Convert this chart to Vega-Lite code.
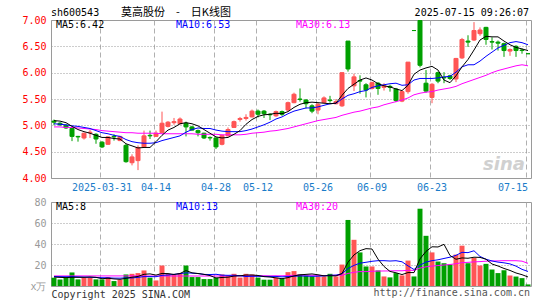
{
  "$schema": "https://vega.github.io/schema/vega-lite/v6.json",
  "background": "white",
  "padding": {"left": 21, "top": 6, "right": 5, "bottom": 2},
  "bounds": "flush",
  "spacing": 24,
  "config": {
    "font": "DejaVu Sans Mono",
    "view": {"stroke": "#9a9a9a", "strokeWidth": 1},
    "axis": {"labelFont": "DejaVu Sans Mono", "labelFontSize": 10, "titleFont": "DejaVu Sans Mono", "titleFontSize": 10, "titleFontWeight": "normal", "ticks": false, "domain": false, "grid": true, "gridColor": "#a8a8a8", "gridWidth": 1, "labelOverlap": false},
    "axisY": {"labelOverlap": false},
    "axisLeft": {"labelOverlap": false},
    "axisQuantitative": {"labelOverlap": false},
    "title": {"font": "DejaVu Sans Mono", "fontSize": 10, "fontWeight": "normal", "color": "#000000"},
    "text": {"font": "DejaVu Sans Mono", "fontSize": 10}
  },
  "data": {"values": [
    {"d":"2025-03-19","o":5.08,"h":5.11,"l":5.00,"c":5.06,"v":7.9,"m5":5.09,"m10":5.03,"m30":4.97,"vm5":8.5,"vm10":9.0,"vm30":9.6},
    {"d":"2025-03-20","o":5.04,"h":5.06,"l":4.99,"c":5.01,"v":6.3,"m5":5.08,"m10":5.02,"m30":4.97,"vm5":8.2,"vm10":8.9,"vm30":9.6},
    {"d":"2025-03-21","o":5.00,"h":5.02,"l":4.93,"c":4.95,"v":7.9,"m5":5.05,"m10":5.01,"m30":4.96,"vm5":8.0,"vm10":8.8,"vm30":9.6},
    {"d":"2025-03-24","o":4.94,"h":4.95,"l":4.70,"c":4.79,"v":12.9,"m5":4.98,"m10":4.99,"m30":4.96,"vm5":8.3,"vm10":8.9,"vm30":9.6},
    {"d":"2025-03-25","o":4.79,"h":4.80,"l":4.69,"c":4.78,"v":6.3,"m5":4.92,"m10":4.98,"m30":4.95,"vm5":8.26,"vm10":8.7,"vm30":9.6},
    {"d":"2025-03-26","o":4.76,"h":4.86,"l":4.73,"c":4.85,"v":7.9,"m5":4.88,"m10":4.96,"m30":4.94,"vm5":8.26,"vm10":8.5,"vm30":9.6},
    {"d":"2025-03-27","o":4.86,"h":4.91,"l":4.76,"c":4.87,"v":7.9,"m5":4.85,"m10":4.94,"m30":4.93,"vm5":8.58,"vm10":8.3,"vm30":9.6},
    {"d":"2025-03-28","o":4.83,"h":4.85,"l":4.65,"c":4.74,"v":6.3,"m5":4.81,"m10":4.90,"m30":4.92,"vm5":8.26,"vm10":8.1,"vm30":9.6},
    {"d":"2025-03-31","o":4.68,"h":4.70,"l":4.57,"c":4.59,"v":6.3,"m5":4.77,"m10":4.86,"m30":4.90,"vm5":6.94,"vm10":7.9,"vm30":9.6},
    {"d":"2025-04-01","o":4.64,"h":4.79,"l":4.63,"c":4.78,"v":8.5,"m5":4.77,"m10":4.84,"m30":4.89,"vm5":7.38,"vm10":7.82,"vm30":9.6},
    {"d":"2025-04-02","o":4.79,"h":4.83,"l":4.71,"c":4.78,"v":4.7,"m5":4.75,"m10":4.81,"m30":4.88,"vm5":6.74,"vm10":7.5,"vm30":9.6},
    {"d":"2025-04-03","o":4.71,"h":4.80,"l":4.70,"c":4.79,"v":6.0,"m5":4.74,"m10":4.79,"m30":4.87,"vm5":6.36,"vm10":7.47,"vm30":9.6},
    {"d":"2025-04-07","o":4.62,"h":4.65,"l":4.29,"c":4.31,"v":11.0,"m5":4.65,"m10":4.73,"m30":4.86,"vm5":7.3,"vm10":7.78,"vm30":9.6},
    {"d":"2025-04-08","o":4.29,"h":4.45,"l":4.24,"c":4.40,"v":11.6,"m5":4.61,"m10":4.69,"m30":4.86,"vm5":8.36,"vm10":7.65,"vm30":9.6},
    {"d":"2025-04-09","o":4.33,"h":4.62,"l":4.15,"c":4.58,"v":12.3,"m5":4.57,"m10":4.67,"m30":4.85,"vm5":9.12,"vm10":8.25,"vm30":9.6},
    {"d":"2025-04-10","o":4.59,"h":4.90,"l":4.58,"c":4.80,"v":14.8,"m5":4.58,"m10":4.66,"m30":4.85,"vm5":11.14,"vm10":8.94,"vm30":9.5},
    {"d":"2025-04-11","o":4.81,"h":4.90,"l":4.74,"c":4.80,"v":7.9,"m5":4.58,"m10":4.66,"m30":4.85,"vm5":11.52,"vm10":8.94,"vm30":9.5},
    {"d":"2025-04-14","o":4.79,"h":4.90,"l":4.78,"c":4.85,"v":5.3,"m5":4.69,"m10":4.67,"m30":4.85,"vm5":10.38,"vm10":8.84,"vm30":9.5},
    {"d":"2025-04-15","o":4.86,"h":5.26,"l":4.85,"c":5.04,"v":19.5,"m5":4.81,"m10":4.71,"m30":4.84,"vm5":11.96,"vm10":10.16,"vm30":9.5},
    {"d":"2025-04-16","o":4.98,"h":5.08,"l":4.96,"c":5.06,"v":11.6,"m5":4.91,"m10":4.74,"m30":4.84,"vm5":11.82,"vm10":10.47,"vm30":9.5},
    {"d":"2025-04-17","o":5.05,"h":5.14,"l":5.01,"c":5.07,"v":10.7,"m5":4.96,"m10":4.77,"m30":4.84,"vm5":11.0,"vm10":11.07,"vm30":9.5},
    {"d":"2025-04-18","o":5.03,"h":5.15,"l":5.02,"c":5.12,"v":12.3,"m5":5.03,"m10":4.80,"m30":4.84,"vm5":11.88,"vm10":11.7,"vm30":9.5},
    {"d":"2025-04-21","o":5.04,"h":5.07,"l":4.79,"c":4.97,"v":19.5,"m5":5.05,"m10":4.87,"m30":4.84,"vm5":14.72,"vm10":12.55,"vm30":9.5},
    {"d":"2025-04-22","o":4.97,"h":4.99,"l":4.90,"c":4.91,"v":8.5,"m5":5.03,"m10":4.92,"m30":4.84,"vm5":12.52,"vm10":12.24,"vm30":9.5},
    {"d":"2025-04-23","o":4.90,"h":4.92,"l":4.79,"c":4.86,"v":8.5,"m5":4.99,"m10":4.95,"m30":4.83,"vm5":11.9,"vm10":11.86,"vm30":9.5},
    {"d":"2025-04-24","o":4.85,"h":4.86,"l":4.74,"c":4.76,"v":6.6,"m5":4.92,"m10":4.94,"m30":4.83,"vm5":11.08,"vm10":11.04,"vm30":9.5},
    {"d":"2025-04-25","o":4.77,"h":4.79,"l":4.71,"c":4.76,"v":6.6,"m5":4.85,"m10":4.94,"m30":4.83,"vm5":9.94,"vm10":10.91,"vm30":9.5},
    {"d":"2025-04-28","o":4.76,"h":4.77,"l":4.55,"c":4.59,"v":7.9,"m5":4.78,"m10":4.91,"m30":4.83,"vm5":7.62,"vm10":11.17,"vm30":9.5},
    {"d":"2025-04-29","o":4.64,"h":4.82,"l":4.62,"c":4.81,"v":11.0,"m5":4.76,"m10":4.89,"m30":4.82,"vm5":8.12,"vm10":10.32,"vm30":9.5},
    {"d":"2025-04-30","o":4.80,"h":4.96,"l":4.79,"c":4.92,"v":10.0,"m5":4.77,"m10":4.88,"m30":4.82,"vm5":8.42,"vm10":10.16,"vm30":9.48},
    {"d":"2025-05-06","o":4.96,"h":5.09,"l":4.95,"c":5.07,"v":11.6,"m5":4.83,"m10":4.88,"m30":4.82,"vm5":9.42,"vm10":10.25,"vm30":9.61},
    {"d":"2025-05-07","o":5.11,"h":5.16,"l":5.07,"c":5.13,"v":8.0,"m5":4.90,"m10":4.88,"m30":4.82,"vm5":9.7,"vm10":9.82,"vm30":9.66},
    {"d":"2025-05-08","o":5.13,"h":5.21,"l":5.09,"c":5.15,"v":11.6,"m5":5.02,"m10":4.90,"m30":4.83,"vm5":10.44,"vm10":9.03,"vm30":9.79},
    {"d":"2025-05-09","o":5.16,"h":5.30,"l":5.15,"c":5.27,"v":11.0,"m5":5.11,"m10":4.93,"m30":4.85,"vm5":10.44,"vm10":9.28,"vm30":9.72},
    {"d":"2025-05-12","o":5.27,"h":5.30,"l":5.15,"c":5.21,"v":8.0,"m5":5.17,"m10":4.97,"m30":4.86,"vm5":10.04,"vm10":9.23,"vm30":9.78},
    {"d":"2025-05-13","o":5.27,"h":5.29,"l":5.14,"c":5.22,"v":6.0,"m5":5.20,"m10":5.01,"m30":4.87,"vm5":8.92,"vm10":9.17,"vm30":9.72},
    {"d":"2025-05-14","o":5.21,"h":5.23,"l":5.10,"c":5.20,"v":6.0,"m5":5.21,"m10":5.06,"m30":4.89,"vm5":8.52,"vm10":9.11,"vm30":9.65},
    {"d":"2025-05-15","o":5.18,"h":5.28,"l":5.16,"c":5.26,"v":7.9,"m5":5.23,"m10":5.12,"m30":4.90,"vm5":7.78,"vm10":9.11,"vm30":9.71},
    {"d":"2025-05-16","o":5.26,"h":5.28,"l":5.18,"c":5.21,"v":6.9,"m5":5.22,"m10":5.16,"m30":4.92,"vm5":6.96,"vm10":8.7,"vm30":9.73},
    {"d":"2025-05-19","o":5.29,"h":5.45,"l":5.26,"c":5.43,"v":13.2,"m5":5.26,"m10":5.22,"m30":4.94,"vm5":8.0,"vm10":9.02,"vm30":9.88},
    {"d":"2025-05-20","o":5.43,"h":5.62,"l":5.42,"c":5.59,"v":14.2,"m5":5.34,"m10":5.27,"m30":4.97,"vm5":9.64,"vm10":9.28,"vm30":10.2},
    {"d":"2025-05-21","o":5.50,"h":5.70,"l":5.45,"c":5.49,"v":11.0,"m5":5.40,"m10":5.30,"m30":5.00,"vm5":10.64,"vm10":9.58,"vm30":10.37},
    {"d":"2025-05-22","o":5.48,"h":5.50,"l":5.32,"c":5.41,"v":10.0,"m5":5.43,"m10":5.33,"m30":5.03,"vm5":11.06,"vm10":9.42,"vm30":10.33},
    {"d":"2025-05-23","o":5.37,"h":5.40,"l":5.23,"c":5.27,"v":9.1,"m5":5.44,"m10":5.33,"m30":5.06,"vm5":11.5,"vm10":9.23,"vm30":10.25},
    {"d":"2025-05-26","o":5.29,"h":5.43,"l":5.21,"c":5.40,"v":9.1,"m5":5.43,"m10":5.35,"m30":5.09,"vm5":10.68,"vm10":9.34,"vm30":10.14},
    {"d":"2025-05-27","o":5.43,"h":5.55,"l":5.42,"c":5.52,"v":9.1,"m5":5.42,"m10":5.38,"m30":5.11,"vm5":9.66,"vm10":9.65,"vm30":9.95},
    {"d":"2025-05-28","o":5.48,"h":5.56,"l":5.43,"c":5.47,"v":11.6,"m5":5.41,"m10":5.41,"m30":5.13,"vm5":9.78,"vm10":10.21,"vm30":10.08},
    {"d":"2025-05-29","o":5.41,"h":5.50,"l":5.40,"c":5.45,"v":9.1,"m5":5.42,"m10":5.42,"m30":5.15,"vm5":9.6,"vm10":10.33,"vm30":10.2},
    {"d":"2025-05-30","o":5.37,"h":6.00,"l":5.35,"c":6.00,"v":20.4,"m5":5.57,"m10":5.50,"m30":5.19,"vm5":11.86,"vm10":11.68,"vm30":10.23},
    {"d":"2025-06-03","o":6.60,"h":6.60,"l":6.02,"c":6.07,"v":62.9,"m5":5.70,"m10":5.57,"m30":5.22,"vm5":22.62,"vm10":16.65,"vm30":11.94},
    {"d":"2025-06-04","o":5.75,"h":5.98,"l":5.65,"c":5.92,"v":44.0,"m5":5.78,"m10":5.60,"m30":5.25,"vm5":29.6,"vm10":19.63,"vm30":13.05},
    {"d":"2025-06-05","o":5.85,"h":5.95,"l":5.60,"c":5.84,"v":32.0,"m5":5.86,"m10":5.64,"m30":5.27,"vm5":33.68,"vm10":21.73,"vm30":13.71},
    {"d":"2025-06-06","o":5.77,"h":5.80,"l":5.53,"c":5.67,"v":18.6,"m5":5.90,"m10":5.66,"m30":5.30,"vm5":35.58,"vm10":22.59,"vm30":13.68},
    {"d":"2025-06-09","o":5.70,"h":5.83,"l":5.68,"c":5.81,"v":18.6,"m5":5.86,"m10":5.72,"m30":5.33,"vm5":35.22,"vm10":23.54,"vm30":14.02},
    {"d":"2025-06-10","o":5.80,"h":5.82,"l":5.58,"c":5.70,"v":14.8,"m5":5.79,"m10":5.75,"m30":5.35,"vm5":25.6,"vm10":24.11,"vm30":14.23},
    {"d":"2025-06-11","o":5.72,"h":5.80,"l":5.66,"c":5.75,"v":9.1,"m5":5.75,"m10":5.77,"m30":5.39,"vm5":18.62,"vm10":24.11,"vm30":14.31},
    {"d":"2025-06-12","o":5.74,"h":5.77,"l":5.64,"c":5.72,"v":8.2,"m5":5.73,"m10":5.79,"m30":5.42,"vm5":13.86,"vm10":23.77,"vm30":14.36},
    {"d":"2025-06-13","o":5.69,"h":5.71,"l":5.44,"c":5.47,"v":12.3,"m5":5.69,"m10":5.80,"m30":5.45,"vm5":12.6,"vm10":24.09,"vm30":14.51},
    {"d":"2025-06-16","o":5.46,"h":5.66,"l":5.44,"c":5.64,"v":10.1,"m5":5.66,"m10":5.76,"m30":5.48,"vm5":10.9,"vm10":23.06,"vm30":14.48},
    {"d":"2025-06-17","o":5.64,"h":6.20,"l":5.60,"c":6.20,"v":24.2,"m5":5.76,"m10":5.77,"m30":5.52,"vm5":12.78,"vm10":19.19,"vm30":14.95},
    {"d":"2025-06-18","o":6.80,"h":6.80,"l":6.80,"c":6.80,"v":9.1,"m5":5.97,"m10":5.86,"m30":5.58,"vm5":12.78,"vm10":15.7,"vm30":14.87},
    {"d":"2025-06-19","o":6.99,"h":7.00,"l":6.10,"c":6.14,"v":73.6,"m5":6.05,"m10":5.89,"m30":5.61,"vm5":25.86,"vm10":19.86,"vm30":17.06},
    {"d":"2025-06-20","o":5.80,"h":6.05,"l":5.62,"c":5.65,"v":47.8,"m5":6.09,"m10":5.89,"m30":5.63,"vm5":32.96,"vm10":22.78,"vm30":18.26},
    {"d":"2025-06-23","o":5.53,"h":5.80,"l":5.42,"c":5.78,"v":32.0,"m5":6.12,"m10":5.89,"m30":5.64,"vm5":37.34,"vm10":24.12,"vm30":18.96},
    {"d":"2025-06-24","o":6.00,"h":6.02,"l":5.80,"c":5.84,"v":23.3,"m5":6.05,"m10":5.90,"m30":5.67,"vm5":37.16,"vm10":24.97,"vm30":19.47},
    {"d":"2025-06-25","o":5.91,"h":6.01,"l":5.80,"c":5.90,"v":21.7,"m5":5.86,"m10":5.92,"m30":5.69,"vm5":39.68,"vm10":26.23,"vm30":20.0},
    {"d":"2025-06-26","o":5.94,"h":5.96,"l":5.86,"c":5.89,"v":20.4,"m5":5.81,"m10":5.93,"m30":5.71,"vm5":29.04,"vm10":27.45,"vm30":20.48},
    {"d":"2025-06-27","o":5.88,"h":6.28,"l":5.82,"c":6.27,"v":29.9,"m5":5.94,"m10":6.01,"m30":5.74,"vm5":25.46,"vm10":29.21,"vm30":21.21},
    {"d":"2025-06-30","o":6.28,"h":6.66,"l":6.26,"c":6.63,"v":38.4,"m5":6.11,"m10":6.11,"m30":5.79,"vm5":26.74,"vm10":32.04,"vm30":22.26},
    {"d":"2025-07-01","o":6.60,"h":6.71,"l":6.49,"c":6.58,"v":21.7,"m5":6.25,"m10":6.15,"m30":5.83,"vm5":26.42,"vm10":31.79,"vm30":22.54},
    {"d":"2025-07-02","o":6.62,"h":6.96,"l":6.60,"c":6.80,"v":26.7,"m5":6.43,"m10":6.15,"m30":5.87,"vm5":27.42,"vm10":33.55,"vm30":22.96},
    {"d":"2025-07-03","o":6.74,"h":6.86,"l":6.70,"c":6.81,"v":19.5,"m5":6.62,"m10":6.22,"m30":5.91,"vm5":27.24,"vm10":28.14,"vm30":23.24},
    {"d":"2025-07-04","o":6.86,"h":6.87,"l":6.53,"c":6.63,"v":21.1,"m5":6.69,"m10":6.31,"m30":5.95,"vm5":25.48,"vm10":25.47,"vm30":23.61},
    {"d":"2025-07-07","o":6.59,"h":6.67,"l":6.44,"c":6.58,"v":15.7,"m5":6.68,"m10":6.39,"m30":6.00,"vm5":20.94,"vm10":23.84,"vm30":23.83},
    {"d":"2025-07-08","o":6.58,"h":6.61,"l":6.42,"c":6.56,"v":12.3,"m5":6.68,"m10":6.47,"m30":6.04,"vm5":19.06,"vm10":22.74,"vm30":23.94},
    {"d":"2025-07-09","o":6.55,"h":6.57,"l":6.30,"c":6.42,"v":15.0,"m5":6.60,"m10":6.52,"m30":6.07,"vm5":16.72,"vm10":22.07,"vm30":24.14},
    {"d":"2025-07-10","o":6.41,"h":6.46,"l":6.32,"c":6.44,"v":10.0,"m5":6.53,"m10":6.57,"m30":6.10,"vm5":14.82,"vm10":21.03,"vm30":24.08},
    {"d":"2025-07-11","o":6.50,"h":6.52,"l":6.30,"c":6.42,"v":9.0,"m5":6.48,"m10":6.59,"m30":6.13,"vm5":12.4,"vm10":18.94,"vm30":24.08},
    {"d":"2025-07-14","o":6.43,"h":6.46,"l":6.36,"c":6.42,"v":7.5,"m5":6.45,"m10":6.57,"m30":6.15,"vm5":10.76,"vm10":15.85,"vm30":23.65},
    {"d":"2025-07-15","o":6.36,"h":6.36,"l":6.36,"c":6.36,"v":1.5,"m5":6.42,"m10":6.53,"m30":6.13,"vm5":8.6,"vm10":13.83,"vm30":21.6}
  ]},
  "vconcat": [
    {
      "width": 480,
      "height": 158,
      "encoding": {
        "x": {"field": "d", "type": "ordinal", "sort": null,
          "scale": {"type": "band", "paddingInner": 0, "paddingOuter": 0},
          "axis": {"values": ["2025-03-31","2025-04-14","2025-04-28","2025-05-12","2025-05-26","2025-06-09","2025-06-23","2025-07-15"],
            "bandPosition": 0.17, "labelAngle": 0, "labelPadding": 4, "labelColor": "#1a7cc9",
            "labelExpr": "datum.value == '2025-03-31' ? datum.value : slice(datum.value, 5)",
            "labelAlign": {"condition": {"test": "datum.value == '2025-07-15'", "value": "right"}, "value": "center"},
            "gridDash": [5, 3], "gridColor": "#b0b0b0", "title": null}}
      },
      "layer": [
        {"mark": {"type": "rule", "strokeWidth": 1},
          "encoding": {
            "y": {"field": "l", "type": "quantitative", "title": null,
              "scale": {"domain": [4, 7], "nice": false, "zero": false},
              "axis": {"values": [4, 4.5, 5, 5.5, 6, 6.5, 7], "format": ".2f", "labelColor": "#ff0000", "labelPadding": 5, "labelOverlap": false, "gridDash": [1, 2], "gridColor": "#9a9a9a", "title": null}},
            "y2": {"field": "h"},
            "color": {"condition": {"test": "datum.c > datum.o", "value": "#ff5555"}, "value": "#00a000"}}},
        {"mark": {"type": "bar", "width": {"band": 0.67}, "strokeWidth": 1},
          "encoding": {
            "y": {"field": "o", "type": "quantitative", "title": null,
              "axis": {"values": [4, 4.5, 5, 5.5, 6, 6.5, 7], "format": ".2f", "labelColor": "#ff0000", "labelPadding": 5, "labelOverlap": false, "gridDash": [1, 2], "gridColor": "#9a9a9a", "title": null}},
            "y2": {"field": "c"},
            "color": {"condition": {"test": "datum.c > datum.o", "value": "#ff5555"}, "value": "#00a000"},
            "stroke": {"condition": {"test": "datum.c > datum.o", "value": "#ff5555"}, "value": "#00a000"}}},
        {"mark": {"type": "line", "strokeWidth": 1, "color": "#ff00ff"},
          "encoding": {"y": {"field": "m30", "type": "quantitative", "title": null,
            "axis": {"values": [4, 4.5, 5, 5.5, 6, 6.5, 7], "format": ".2f", "labelColor": "#ff0000", "labelPadding": 5, "labelOverlap": false, "gridDash": [1, 2], "gridColor": "#9a9a9a", "title": null}}}},
        {"mark": {"type": "line", "strokeWidth": 1, "color": "#0000ff"},
          "encoding": {"y": {"field": "m10", "type": "quantitative", "title": null,
            "axis": {"values": [4, 4.5, 5, 5.5, 6, 6.5, 7], "format": ".2f", "labelColor": "#ff0000", "labelPadding": 5, "labelOverlap": false, "gridDash": [1, 2], "gridColor": "#9a9a9a", "title": null}}}},
        {"mark": {"type": "line", "strokeWidth": 1, "color": "#000000"},
          "encoding": {"y": {"field": "m5", "type": "quantitative", "title": null,
            "axis": {"values": [4, 4.5, 5, 5.5, 6, 6.5, 7], "format": ".2f", "labelColor": "#ff0000", "labelPadding": 5, "labelOverlap": false, "gridDash": [1, 2], "gridColor": "#9a9a9a", "title": null}}}},
        {"data": {"values": [{}]},
          "mark": {"type": "text", "align": "left", "baseline": "middle", "dx": 2, "color": "#000000"},
          "encoding": {"x": {"datum": "2025-03-19"},
            "y": {"datum": 6.9, "axis": {"values": [4, 4.5, 5, 5.5, 6, 6.5, 7], "format": ".2f", "labelColor": "#ff0000", "labelPadding": 5, "labelOverlap": false, "gridDash": [1, 2], "gridColor": "#9a9a9a", "title": null}},
            "text": {"value": "MA5:6.42"}}},
        {"data": {"values": [{}]},
          "mark": {"type": "text", "align": "left", "baseline": "middle", "dx": 2, "color": "#0000ff"},
          "encoding": {"x": {"datum": "2025-04-17"},
            "y": {"datum": 6.9, "axis": {"values": [4, 4.5, 5, 5.5, 6, 6.5, 7], "format": ".2f", "labelColor": "#ff0000", "labelPadding": 5, "labelOverlap": false, "gridDash": [1, 2], "gridColor": "#9a9a9a", "title": null}},
            "text": {"value": "MA10:6.53"}}},
        {"data": {"values": [{}]},
          "mark": {"type": "text", "align": "left", "baseline": "middle", "dx": 2, "color": "#ff00ff"},
          "encoding": {"x": {"datum": "2025-05-20"},
            "y": {"datum": 6.9, "axis": {"values": [4, 4.5, 5, 5.5, 6, 6.5, 7], "format": ".2f", "labelColor": "#ff0000", "labelPadding": 5, "labelOverlap": false, "gridDash": [1, 2], "gridColor": "#9a9a9a", "title": null}},
            "text": {"value": "MA30:6.13"}}},
        {"data": {"values": [{}]},
          "mark": {"type": "text", "align": "left", "baseline": "middle", "dx": -3, "color": "#000000"},
          "encoding": {"x": {"datum": "2025-03-19"},
            "y": {"datum": 7.14, "axis": {"values": [4, 4.5, 5, 5.5, 6, 6.5, 7], "format": ".2f", "labelColor": "#ff0000", "labelPadding": 5, "labelOverlap": false, "gridDash": [1, 2], "gridColor": "#9a9a9a", "title": null}},
            "text": {"value": "sh600543"}}},
        {"data": {"values": [{}]},
          "mark": {"type": "text", "align": "left", "baseline": "middle", "dx": 1, "font": "Noto Sans CJK SC", "fontSize": 11, "color": "#000000"},
          "encoding": {"x": {"datum": "2025-04-03"},
            "y": {"datum": 7.14, "axis": {"values": [4, 4.5, 5, 5.5, 6, 6.5, 7], "format": ".2f", "labelColor": "#ff0000", "labelPadding": 5, "labelOverlap": false, "gridDash": [1, 2], "gridColor": "#9a9a9a", "title": null}},
            "text": {"value": "莫高股份　-　日K线图"}}},
        {"data": {"values": [{}]},
          "mark": {"type": "text", "align": "right", "baseline": "middle", "dx": 1, "color": "#000000"},
          "encoding": {"x": {"datum": "2025-07-15"},
            "y": {"datum": 7.14, "axis": {"values": [4, 4.5, 5, 5.5, 6, 6.5, 7], "format": ".2f", "labelColor": "#ff0000", "labelPadding": 5, "labelOverlap": false, "gridDash": [1, 2], "gridColor": "#9a9a9a", "title": null}},
            "text": {"value": "2025-07-15 09:26:07"}}},
        {"data": {"values": [{}]},
          "mark": {"type": "text", "align": "center", "baseline": "middle", "font": "DejaVu Sans", "fontSize": 18, "fontStyle": "italic", "fontWeight": "bold", "color": "#d0d0d0"},
          "encoding": {"x": {"datum": "2025-07-09"},
            "y": {"datum": 4.25, "axis": {"values": [4, 4.5, 5, 5.5, 6, 6.5, 7], "format": ".2f", "labelColor": "#ff0000", "labelPadding": 5, "labelOverlap": false, "gridDash": [1, 2], "gridColor": "#9a9a9a", "title": null}},
            "text": {"value": "sina"}}}
      ]
    },
    {
      "width": 480,
      "height": 84,
      "encoding": {
        "x": {"field": "d", "type": "ordinal", "sort": null,
          "scale": {"type": "band", "paddingInner": 0, "paddingOuter": 0},
          "axis": {"values": ["2025-03-31","2025-04-14","2025-04-28","2025-05-12","2025-05-26","2025-06-09","2025-06-23","2025-07-15"],
            "bandPosition": 0.17, "labels": false, "gridDash": [5, 3], "gridColor": "#b0b0b0",
            "title": "Copyright 2025 SINA.COM", "titleAnchor": "start", "titleAlign": "left", "titleX": 0, "titleY": 8, "titleBaseline": "middle", "titleColor": "#333333"}}
      },
      "layer": [
        {"mark": {"type": "bar", "width": {"band": 0.83}},
          "encoding": {
            "y": {"field": "v", "type": "quantitative", "title": null,
              "scale": {"domain": [0, 80], "nice": false},
              "axis": {"values": [0, 20, 40, 60, 80], "labelExpr": "datum.value == 0 ? 'x万' : datum.label", "labelColor": "#999999", "labelPadding": 5, "labelOverlap": false, "gridDash": [1, 2], "gridColor": "#9a9a9a", "title": null}},
            "color": {"condition": {"test": "datum.c > datum.o", "value": "#ff5555"}, "value": "#00a000"}}},
        {"mark": {"type": "line", "strokeWidth": 1, "color": "#ff00ff"},
          "encoding": {"y": {"field": "vm30", "type": "quantitative", "title": null,
            "axis": {"values": [0, 20, 40, 60, 80], "labelExpr": "datum.value == 0 ? 'x万' : datum.label", "labelColor": "#999999", "labelPadding": 5, "labelOverlap": false, "gridDash": [1, 2], "gridColor": "#9a9a9a", "title": null}}}},
        {"mark": {"type": "line", "strokeWidth": 1, "color": "#0000ff"},
          "encoding": {"y": {"field": "vm10", "type": "quantitative", "title": null,
            "axis": {"values": [0, 20, 40, 60, 80], "labelExpr": "datum.value == 0 ? 'x万' : datum.label", "labelColor": "#999999", "labelPadding": 5, "labelOverlap": false, "gridDash": [1, 2], "gridColor": "#9a9a9a", "title": null}}}},
        {"mark": {"type": "line", "strokeWidth": 1, "color": "#000000"},
          "encoding": {"y": {"field": "vm5", "type": "quantitative", "title": null,
            "axis": {"values": [0, 20, 40, 60, 80], "labelExpr": "datum.value == 0 ? 'x万' : datum.label", "labelColor": "#999999", "labelPadding": 5, "labelOverlap": false, "gridDash": [1, 2], "gridColor": "#9a9a9a", "title": null}}}},
        {"data": {"values": [{}]},
          "mark": {"type": "text", "align": "left", "baseline": "middle", "dx": 2, "color": "#000000"},
          "encoding": {"x": {"datum": "2025-03-19"},
            "y": {"datum": 75.5, "axis": {"values": [0, 20, 40, 60, 80], "labelExpr": "datum.value == 0 ? 'x万' : datum.label", "labelColor": "#999999", "labelPadding": 5, "labelOverlap": false, "gridDash": [1, 2], "gridColor": "#9a9a9a", "title": null}},
            "text": {"value": "MA5:8"}}},
        {"data": {"values": [{}]},
          "mark": {"type": "text", "align": "left", "baseline": "middle", "dx": 2, "color": "#0000ff"},
          "encoding": {"x": {"datum": "2025-04-17"},
            "y": {"datum": 75.5, "axis": {"values": [0, 20, 40, 60, 80], "labelExpr": "datum.value == 0 ? 'x万' : datum.label", "labelColor": "#999999", "labelPadding": 5, "labelOverlap": false, "gridDash": [1, 2], "gridColor": "#9a9a9a", "title": null}},
            "text": {"value": "MA10:13"}}},
        {"data": {"values": [{}]},
          "mark": {"type": "text", "align": "left", "baseline": "middle", "dx": 2, "color": "#ff00ff"},
          "encoding": {"x": {"datum": "2025-05-20"},
            "y": {"datum": 75.5, "axis": {"values": [0, 20, 40, 60, 80], "labelExpr": "datum.value == 0 ? 'x万' : datum.label", "labelColor": "#999999", "labelPadding": 5, "labelOverlap": false, "gridDash": [1, 2], "gridColor": "#9a9a9a", "title": null}},
            "text": {"value": "MA30:20"}}},
        {"data": {"values": [{}]},
          "mark": {"type": "text", "align": "right", "baseline": "middle", "dx": 2, "color": "#555555"},
          "encoding": {"x": {"datum": "2025-07-15"},
            "y": {"datum": -6.5, "axis": {"values": [0, 20, 40, 60, 80], "labelExpr": "datum.value == 0 ? 'x万' : datum.label", "labelColor": "#999999", "labelPadding": 5, "labelOverlap": false, "gridDash": [1, 2], "gridColor": "#9a9a9a", "title": null}},
            "text": {"value": "http://finance.sina.com.cn"}}}
      ]
    }
  ]
}
